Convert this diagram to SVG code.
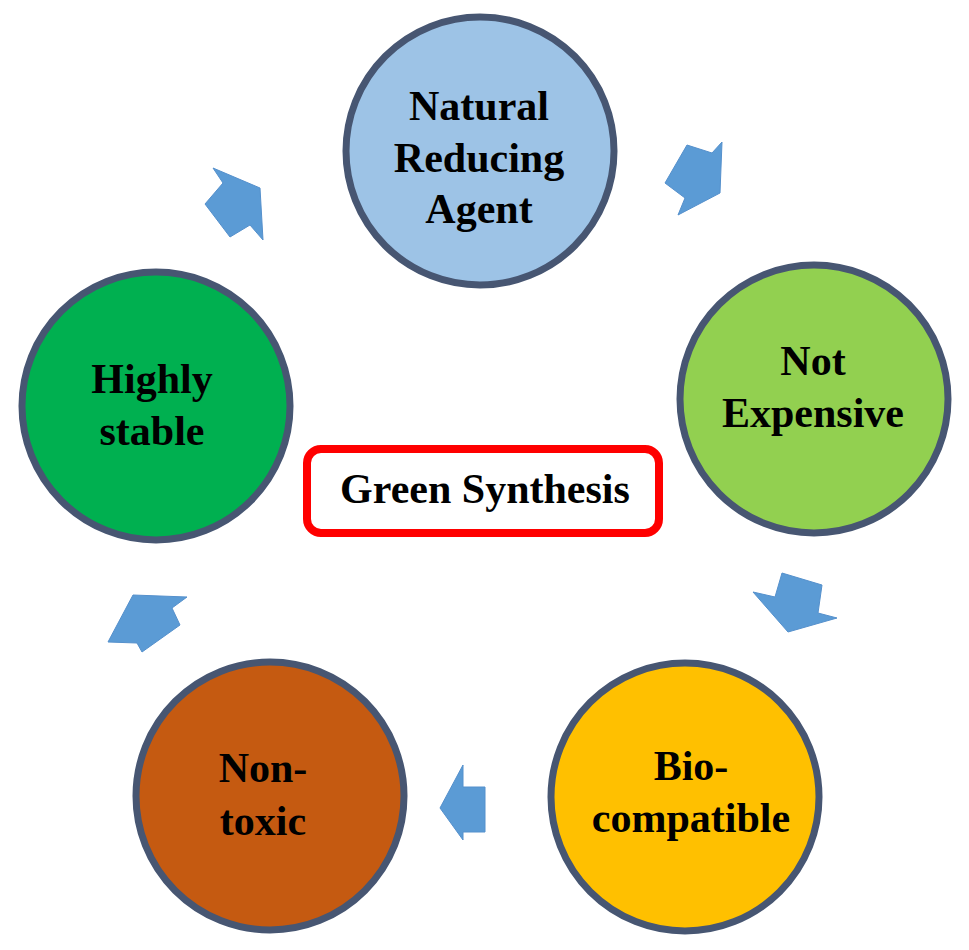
<svg xmlns="http://www.w3.org/2000/svg" width="969" height="950" viewBox="0 0 969 950">
<style>
.node{stroke:#475672;stroke-width:7}
.lbl{font-family:"Liberation Serif","Times New Roman",serif;font-weight:bold;font-size:42px;fill:#000;text-anchor:middle}
.arr{fill:#5B9BD5;stroke:#5590CC;stroke-width:1;stroke-linejoin:round}
</style>
<rect width="969" height="950" fill="#fff"/>
<g id="connectors">
<polygon class="arr" points="213,168 260,188 263,240 250,225 230,237 205,204 223,183"/>
<polygon class="arr" points="722,142 720,193 678,215 685,198 665,183 687,145 712,153"/>
<polygon class="arr" points="782,573 822,585 818,613 837,618 788,632 753,592 775,597"/>
<polygon class="arr" points="463,765 463,787 485,787 485,832 463,832 463,840 440,808"/>
<polygon class="arr" points="133,595 187,597 172,608 180,625 142,652 137,643 108,642"/>
</g>
<g id="natural">
<circle class="node" cx="480" cy="151" r="134" fill="#9DC3E6"/>
<text class="lbl" x="479" y="120">Natural</text>
<text class="lbl" x="479" y="172">Reducing</text>
<text class="lbl" x="479" y="223">Agent</text>
</g>
<g id="notexpensive">
<circle class="node" cx="814" cy="399" r="134" fill="#92D050"/>
<text class="lbl" x="813" y="375">Not</text>
<text class="lbl" x="813" y="427">Expensive</text>
</g>
<g id="biocompatible">
<circle class="node" cx="685" cy="797" r="134" fill="#FFC000"/>
<text class="lbl" x="691" y="780">Bio-</text>
<text class="lbl" x="691" y="832">compatible</text>
</g>
<g id="nontoxic">
<circle class="node" cx="270" cy="796" r="134" fill="#C55A11"/>
<text class="lbl" x="263" y="782">Non-</text>
<text class="lbl" x="263" y="835">toxic</text>
</g>
<g id="highlystable">
<circle class="node" cx="156" cy="406" r="134" fill="#00B050"/>
<text class="lbl" x="152" y="393">Highly</text>
<text class="lbl" x="152" y="445">stable</text>
</g>
<g id="greensynthesis">
<rect x="307" y="449" width="352" height="84" rx="14" fill="#fff" stroke="#FF0000" stroke-width="8"/>
<text class="lbl" x="485" y="503">Green Synthesis</text>
</g>
</svg>
